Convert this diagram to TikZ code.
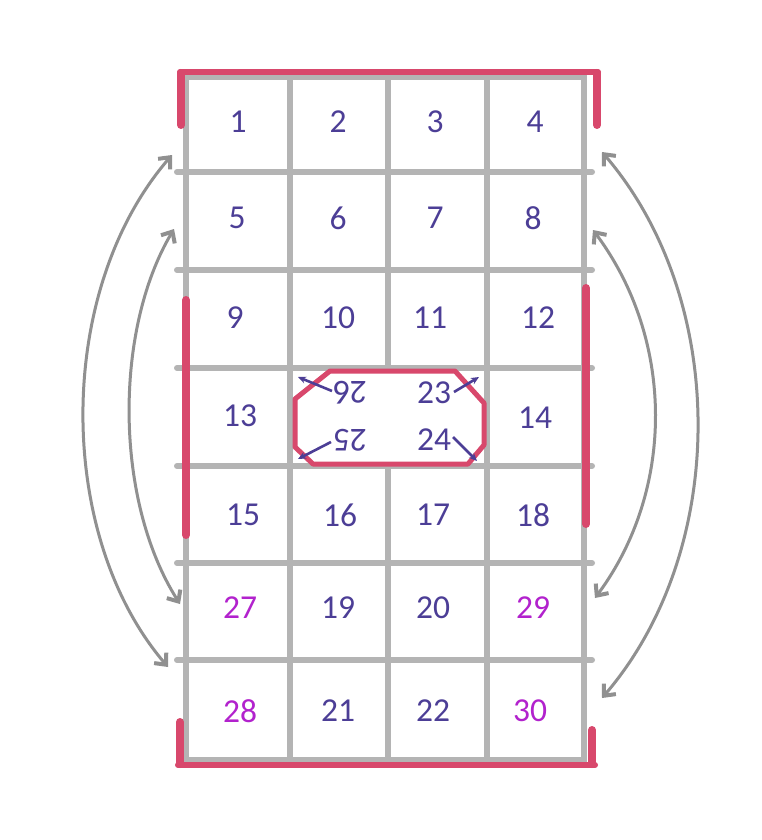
\documentclass[tikz,border=0pt]{standalone}
\usepackage{fontspec}
\setmainfont{Carlito}
\usetikzlibrary{arrows.meta}
\definecolor{numblue}{RGB}{76,62,150}
\definecolor{nummag}{RGB}{178,34,205}
\definecolor{pencil}{RGB}{180,180,180}
\definecolor{redpen}{RGB}{216,72,108}
\tikzset{
  num/.style={text=numblue, font=\fontsize{33.5}{34}\selectfont, inner sep=0pt},
  magnum/.style={num, text=nummag},
  gridline/.style={draw=pencil, line width=6pt, line cap=round},
  redline/.style={draw=redpen, line width=6pt, line cap=round},
  redbar/.style={draw=redpen, line width=8pt, line cap=round},
  swap/.style={draw=pencil!80!black, line width=3pt, {Straight Barb[length=9pt,width=16pt,line width=4pt]}-{Straight Barb[length=9pt,width=16pt,line width=4pt]}},
  holearrow/.style={draw=numblue, line width=2.6pt, -{Stealth[length=8pt,width=7pt]}},
  hole/.style={draw=redpen, line width=5pt, fill=white, line join=round}
}
\begin{document}
\begin{tikzpicture}[x=1pt,y=-1pt]
\useasboundingbox (0,0) rectangle (762,840);
\fill[white] (0,0) rectangle (762,840);

% pencil grid
\draw[gridline] (186,77) rectangle (584,760);
\foreach \x in {290,388,487} \draw[gridline] (\x,77) -- (\x,760);
\foreach \y in {172,270,368,466,563,660} \draw[gridline] (177,\y) -- (592,\y);

% red outer marks
\draw[redline] (180,72) -- (598,72);
\draw[redbar] (181,73) -- (181,125);
\draw[redbar] (597,73) -- (597,125);
\draw[redline] (178,765) -- (595,765);
\draw[redbar] (180,722) -- (180,764);
\draw[redbar] (592,730) -- (592,764);
\draw[redbar] (186,300) -- (186,535);
\draw[redbar] (586,288) -- (586,524);

% central hole
\draw[hole] (330,371) -- (455,371) -- (484,403) -- (484,445) -- (468,464)
  -- (313,464) -- (295,447) -- (295,399) -- cycle;

% cell numbers
\node[num] (c1) at (238,122) {1};
\node[num] (c2) at (338,122) {2};
\node[num] (c3) at (435,122) {3};
\node[num] (c4) at (535,122) {4};
\node[num] (c5) at (237,218) {5};
\node[num] (c6) at (338,218) {6};
\node[num] (c7) at (435,218) {7};
\node[num] (c8) at (533,218) {8};
\node[num] (c9) at (235,318) {9};
\node[num] (c10) at (338,318) {10};
\node[num] (c11) at (430,318) {11};
\node[num] (c12) at (538,318) {12};
\node[num] (c13) at (240,416) {13};
\node[num] (c14) at (535,418) {14};
\node[num] (c15) at (243,515) {15};
\node[num] (c16) at (340,515) {16};
\node[num] (c17) at (433,515) {17};
\node[num] (c18) at (533,515) {18};
\node[magnum] (c27) at (240,608) {27};
\node[num] (c19) at (338,608) {19};
\node[num] (c20) at (433,608) {20};
\node[magnum] (c29) at (533,608) {29};
\node[magnum] (c28) at (240,711) {28};
\node[num] (c21) at (338,711) {21};
\node[num] (c22) at (433,711) {22};
\node[magnum] (c30) at (530,711) {30};

% hole numbers
\node[num, rotate=180] (c26) at (350,393) {26};
\node[num] (c23) at (434,393) {23};
\node[num, rotate=180] (c25) at (350,440) {25};
\node[num] (c24) at (434,440) {24};

% hole arrows
\coordinate (s26) at (332,391); \coordinate (t26) at (298,377);
\coordinate (s23) at (454,392); \coordinate (t23) at (479,377);
\coordinate (s25) at (331,442); \coordinate (t25) at (298,459);
\coordinate (s24) at (453,437); \coordinate (t24) at (477,461);
\draw[holearrow] (s26) -- (t26);
\draw[holearrow] (s23) -- (t23);
\draw[holearrow] (s25) -- (t25);
\draw[holearrow] (s24) -- (t24);

% swap arrows
\coordinate (lo1) at (172,155); \coordinate (lo2) at (168,667);
\coordinate (li1) at (174,229); \coordinate (li2) at (180,604);
\coordinate (ro1) at (602,152); \coordinate (ro2) at (602,698);
\coordinate (ri1) at (593,230); \coordinate (ri2) at (595,598);
\draw[swap] (lo1) .. controls (55,290) and (55,535) .. (lo2);
\draw[swap] (li1) .. controls (114,330) and (114,500) .. (li2);
\draw[swap] (ro1) .. controls (729,300) and (729,550) .. (ro2);
\draw[swap] (ri1) .. controls (675,340) and (675,490) .. (ri2);
\end{tikzpicture}
\end{document}
